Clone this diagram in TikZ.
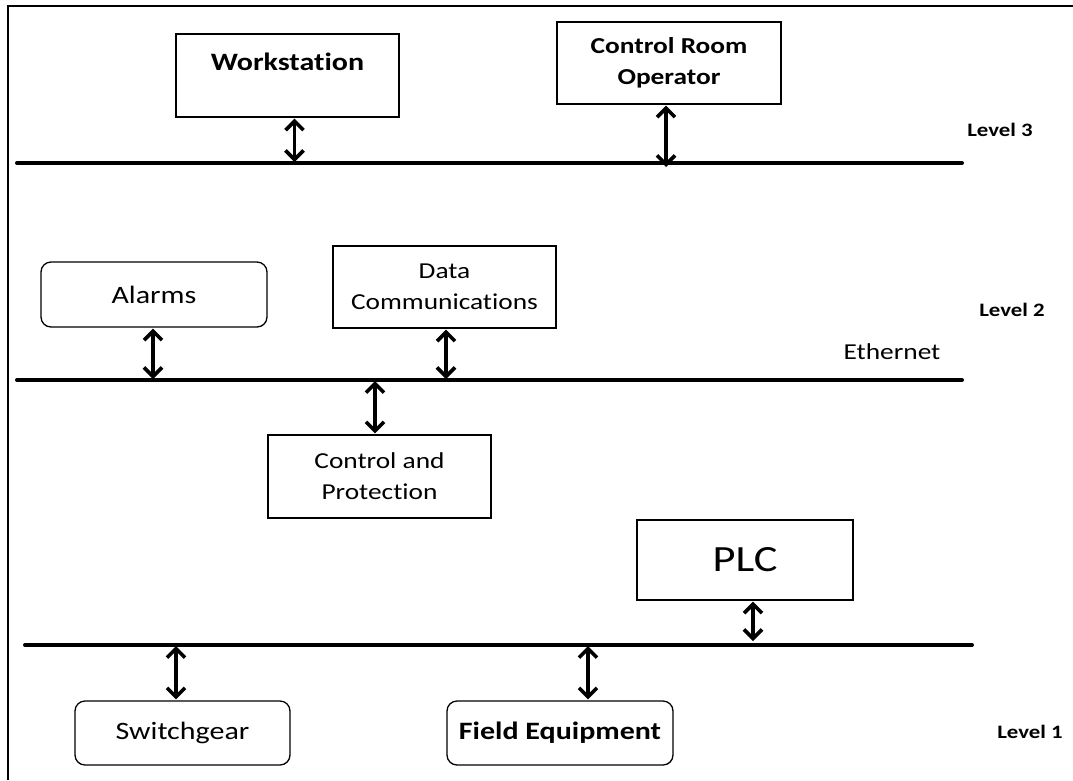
\documentclass[tikz,border=0pt]{standalone}
\usepackage{fontspec}
\setmainfont{Carlito}[FakeStretch=1.2, Ligatures=NoCommon]
\usetikzlibrary{arrows.meta,calc}
\tikzset{
  box/.style={draw=black, line width=1.3pt, inner sep=0pt, align=center, font=\fontsize{22.8}{31}\selectfont},
  big/.style={font=\fontsize{25}{31}\selectfont},
  bigb/.style={font=\fontsize{25}{31}\selectfont\bfseries},
  rbox/.style={box, rounded corners=10pt},
  bus/.style={line width=4pt, line cap=round},
  arr/.style={line width=3.6pt, {Straight Barb[length=9pt,width=18pt,line width=3.6pt]}-{Straight Barb[length=9pt,width=18pt,line width=3.6pt]}, shorten <=1pt, shorten >=1pt},
  lvl/.style={font=\fontsize{19}{22}\selectfont\bfseries},
}
\begin{document}
\begin{tikzpicture}[x=1pt,y=-1pt]
\useasboundingbox (0,0) rectangle (1073,780);
% frame
\coordinate (fa) at (8,780);
\coordinate (fb) at (8,6);
\coordinate (fc) at (1073,6);
\draw[line width=1.5pt] (fa) -- (fb) -- (fc);

% buses
\coordinate (l3a) at (17,163); \coordinate (l3b) at (962,163);
\coordinate (l2a) at (17,380); \coordinate (l2b) at (962,380);
\coordinate (l1a) at (25,645); \coordinate (l1b) at (972,645);
\draw[bus] (l3a) -- (l3b);
\draw[bus] (l2a) -- (l2b);
\draw[bus] (l1a) -- (l1b);

% level 3
\node[box, bigb, minimum width=223pt, minimum height=83pt] (ws) at (287.5,75.5) {Workstation\\[-4pt]~};
\node[box, minimum width=224pt, minimum height=82pt, font=\fontsize{22.8}{31}\selectfont\bfseries] (cro) at (669,63) {Control Room\\Operator};
\node[lvl] (lv3) at (1000,130) {Level 3};

% level 2
\node[rbox, big, minimum width=226pt, minimum height=65pt] (al) at (154,294.5) {Alarms};
\node[box, minimum width=223pt, minimum height=82pt] (dc) at (444.5,287) {Data\\Communications};
\node[lvl] (lv2) at (1012,310) {Level 2};
\node[font=\fontsize{22.8}{26}\selectfont] (eth) at (892,352) {Ethernet};
\node[box, minimum width=223pt, minimum height=83pt] (cp) at (379.5,476.5) {Control and\\Protection};

% level 1
\node[box, minimum width=216pt, minimum height=80pt, font=\fontsize{37}{40}\selectfont] (plc) at (745,560) {PLC};
\node[rbox, big, minimum width=215pt, minimum height=64pt] (sg) at (182.5,733) {Switchgear};
\node[rbox, bigb, minimum width=226pt, minimum height=64pt] (fe) at (560,733) {Field Equipment};
\node[lvl] (lv1) at (1030,732) {Level 1};

% arrows
\draw[arr] ([xshift=7pt]ws.south) -- ([xshift=7pt]ws.south |- l3a);
\draw[arr] ([xshift=-3pt]cro.south) -- ([xshift=-3pt,yshift=-5pt]cro.south |- l3a);
\draw[arr] ([xshift=-1pt]al.south) -- ([xshift=-1pt]al.south |- l2a);
\draw[arr] ([xshift=1.5pt]dc.south) -- ([xshift=1.5pt]dc.south |- l2a);
\draw[arr] ([xshift=-4.5pt]cp.north |- l2a) -- ([xshift=-4.5pt]cp.north);
\draw[arr] ([xshift=8pt]plc.south) -- ([xshift=8pt,yshift=3pt]plc.south |- l1a);
\draw[arr] ([xshift=-6.5pt]sg.north |- l1a) -- ([xshift=-6.5pt]sg.north);
\draw[arr] ([xshift=28pt]fe.north |- l1a) -- ([xshift=28pt]fe.north);
\end{tikzpicture}
\end{document}
